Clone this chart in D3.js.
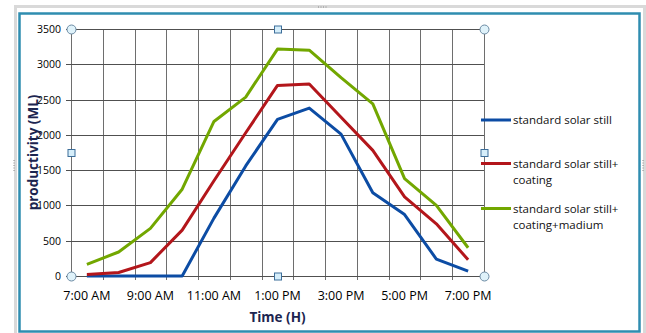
<!DOCTYPE html>
<html>
<head>
<meta charset="UTF-8">
<style>
  body { margin: 0; background: #fff; }
  svg { display: block; font-family: "Open Sans", sans-serif; }
  .grid line { shape-rendering: crispEdges; }
</style>
</head>
<body>
<script src="https://cdn.jsdelivr.net/npm/d3@7"></script>
<script>
// data
var hours = ["7:00 AM", "8:00 AM", "9:00 AM", "10:00 AM", "11:00 AM", "12:00 PM", "1:00 PM",
             "2:00 PM", "3:00 PM", "4:00 PM", "5:00 PM", "6:00 PM", "7:00 PM"];
var tickLabels = ["7:00 AM", "9:00 AM", "11:00 AM", "1:00 PM", "3:00 PM", "5:00 PM", "7:00 PM"];
var yTicks = [0, 500, 1000, 1500, 2000, 2500, 3000, 3500];
var standard = [0, 0, 0, 0, 820, 1560, 2220, 2380, 2010, 1180, 870, 240, 70];
var coating = [20, 50, 190, 650, 1350, 2030, 2700, 2720, 2250, 1780, 1120, 740, 230];
var coatingMedium = [165, 340, 675, 1230, 2190, 2535, 3215, 3200, 2810, 2440, 1380, 1000, 400];
var seriesNames = [["standard solar still"], ["standard solar still+", "coating"], ["standard solar still+", "coating+madium"]];
var seriesColors = ["#0c4ca4", "#b3161b", "#72a700"];

var W = 646, H = 333;
// plot box (note: "top" is reserved on window, so pL/pR/pT/pB)
var pL = 71, pR = 484, pT = 29, pB = 276;

var svg = d3.select("body").append("svg").attr("width", W).attr("height", H);

// selection frames around chart
svg.append("rect").attr("x", 15.5).attr("y", 6.5).attr("width", 629).attr("height", 330)
  .attr("fill", "none").attr("stroke", "#d9d9d9").attr("stroke-width", 3);
svg.append("rect").attr("x", 19.5).attr("y", 13.5).attr("width", 620).attr("height", 318)
  .attr("fill", "#fff").attr("stroke", "#2f8db0").attr("stroke-width", 2.5);
[[318, 7, 328, 7], [14, 160, 14, 172], [643, 160, 643, 172]].forEach(function (d) {
  svg.append("line").attr("x1", d[0]).attr("y1", d[1]).attr("x2", d[2]).attr("y2", d[3])
    .attr("stroke", "#888").attr("stroke-dasharray", "1,1.5");
});

var x = d3.scaleBand().domain(hours).range([pL, pR]);
var y = d3.scaleLinear().domain([0, 3500]).range([pB, pT]);
var cx = function (h) { return x(h) + x.bandwidth() / 2; };

var grid = svg.append("g").attr("class", "grid");
// vertical gridlines at category boundaries
var bounds = hours.map(function (h) { return x(h); }).concat([pR]);
grid.selectAll(".v").data(bounds).join("line")
  .attr("x1", function (d) { return Math.round(d) + 0.5; })
  .attr("x2", function (d) { return Math.round(d) + 0.5; })
  .attr("y1", pT).attr("y2", pB + 4)
  .attr("stroke", "#6e6e6e");
grid.selectAll(".h").data(yTicks).join("line")
  .attr("x1", pL - 5).attr("x2", pR)
  .attr("y1", function (d) { return Math.round(y(d)) + 0.5; })
  .attr("y2", function (d) { return Math.round(y(d)) + 0.5; })
  .attr("stroke", "#505050");

// y tick labels
svg.selectAll(".yl").data(yTicks).join("text")
  .attr("x", 61).attr("y", function (d) { return y(d) + 4; })
  .attr("text-anchor", "end").attr("font-size", 10.5).attr("fill", "#000")
  .text(function (d) { return d; });

// x tick labels
svg.selectAll(".xl").data(tickLabels).join("text")
  .attr("x", function (d) { return cx(d); }).attr("y", 300)
  .attr("text-anchor", "middle").attr("font-size", 12.5).attr("fill", "#000")
  .text(function (d) { return d; });

// axis titles
svg.append("text").attr("transform", "translate(38," + (pT + pB) / 2 + ") rotate(-90)")
  .attr("text-anchor", "middle").attr("font-size", 13.5).attr("font-weight", "bold")
  .attr("fill", "#1c2550").text("productivity (ML)");
svg.append("text").attr("x", (pL + pR) / 2).attr("y", 322)
  .attr("text-anchor", "middle").attr("font-size", 13.5).attr("font-weight", "bold")
  .attr("fill", "#1c2550").text("Time (H)");

// series lines
var line = d3.line().x(function (d, i) { return cx(hours[i]); }).y(function (d) { return y(d); });
[standard, coating, coatingMedium].forEach(function (s, i) {
  svg.append("path").datum(s).attr("d", line)
    .attr("fill", "none").attr("stroke", seriesColors[i]).attr("stroke-width", 3)
    .attr("stroke-linejoin", "round");
});

// legend
var legY = [120, 163.5, 208.5];
seriesNames.forEach(function (lines, i) {
  svg.append("line").attr("x1", 481).attr("x2", 511).attr("y1", legY[i]).attr("y2", legY[i])
    .attr("stroke", seriesColors[i]).attr("stroke-width", 3);
  lines.forEach(function (t, j) {
    svg.append("text").attr("x", 513).attr("y", legY[i] + 4 + j * 16.5)
      .attr("font-size", 11.5).attr("fill", "#111").text(t);
  });
});

// plot area selection handles
var midX = (pL + pR) / 2, midY = (pT + pB) / 2;
[[pL, pT], [pR, pT], [pL, pB], [pR, pB]].forEach(function (p) {
  svg.append("circle").attr("cx", p[0] + 0.5).attr("cy", p[1] + 0.5).attr("r", 4.5)
    .attr("fill", "#dff2fa").attr("stroke", "#6b8aa3");
});
[[midX, pT], [pL, midY], [pR, midY], [midX, pB]].forEach(function (p) {
  svg.append("rect").attr("x", p[0] - 3).attr("y", p[1] - 3).attr("width", 7).attr("height", 7)
    .attr("fill", "#d6eefa").attr("stroke", "#3d6e9a");
});
</script>
</body>
</html>
